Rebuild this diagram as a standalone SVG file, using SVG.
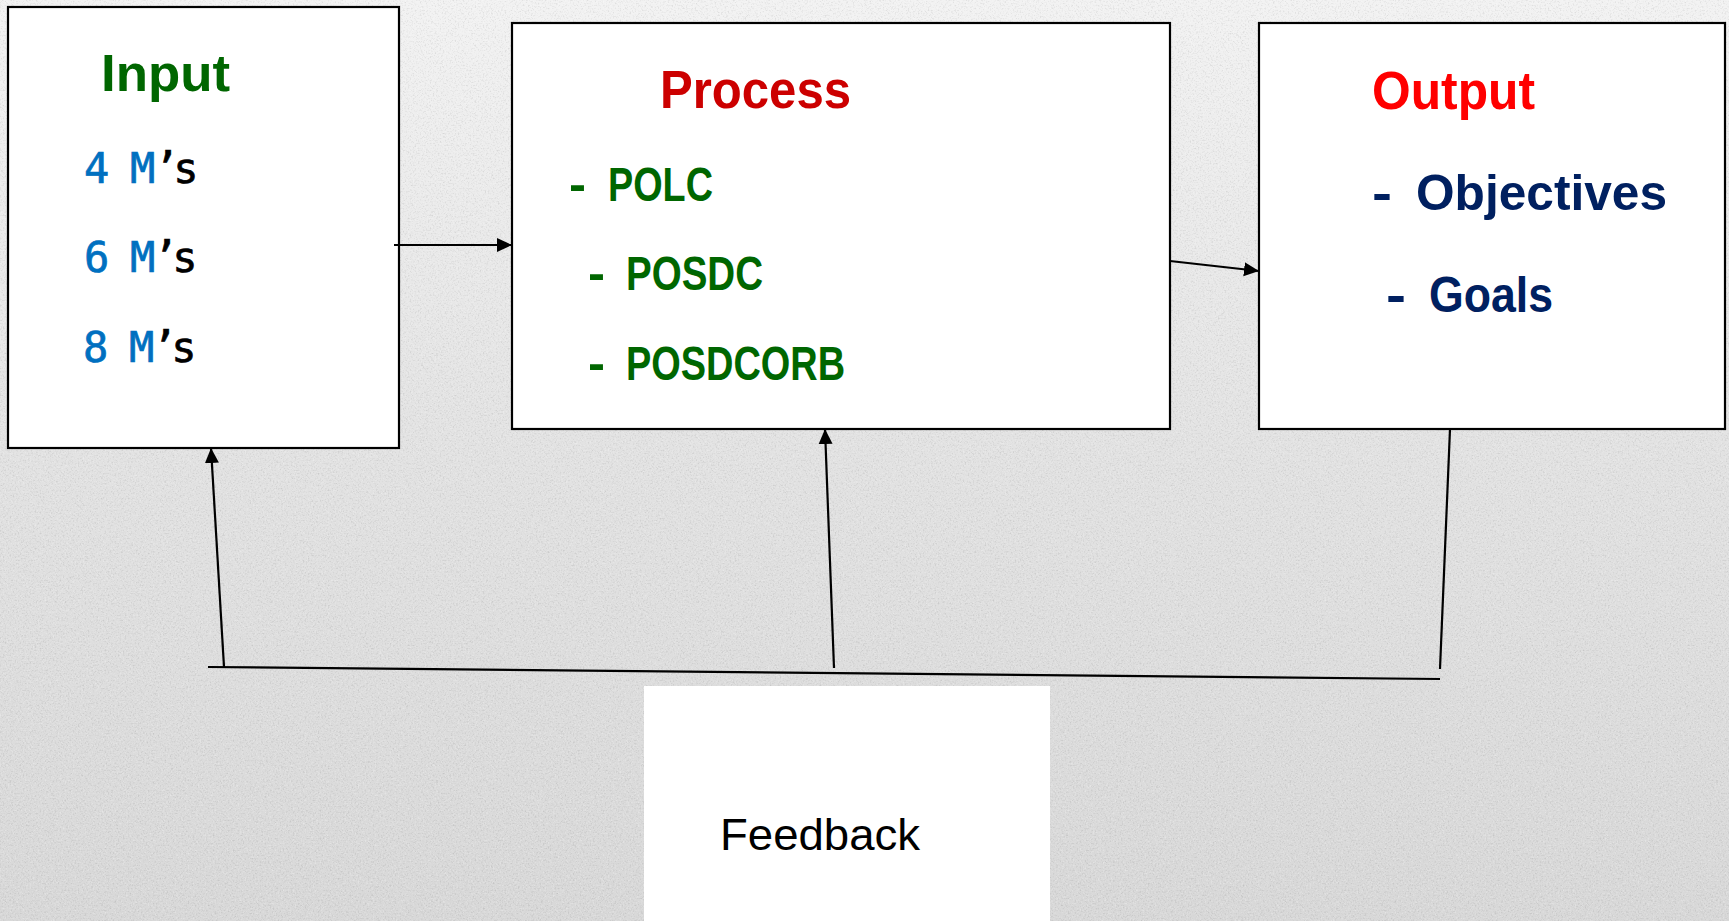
<svg xmlns="http://www.w3.org/2000/svg" width="1729" height="921" viewBox="0 0 1729 921">
  <defs>
    <linearGradient id="paper" x1="0" y1="0" x2="0" y2="1">
      <stop offset="0" stop-color="#f2f2f2"/>
      <stop offset="0.5" stop-color="#e2e2e2"/>
      <stop offset="1" stop-color="#d8d8d8"/>
    </linearGradient>
    <!-- fine paper grain: dark and light speckles -->
    <filter id="grainDark" x="0" y="0" width="100%" height="100%">
      <feTurbulence type="fractalNoise" baseFrequency="0.6" numOctaves="2" seed="7" result="n"/>
      <feColorMatrix in="n" type="matrix" values="0 0 0 0 0  0 0 0 0 0  0 0 0 0 0  2.4 0 0 0 -1.2"/>
    </filter>
    <filter id="grainLight" x="0" y="0" width="100%" height="100%">
      <feTurbulence type="fractalNoise" baseFrequency="0.6" numOctaves="2" seed="19" result="n"/>
      <feColorMatrix in="n" type="matrix" values="0 0 0 0 1  0 0 0 0 1  0 0 0 0 1  2.4 0 0 0 -1.2"/>
    </filter>
    <marker id="arrow" markerUnits="userSpaceOnUse" markerWidth="16" markerHeight="16" viewBox="0 0 16 16" refX="15" refY="8" orient="auto">
      <path d="M0,1 L15,8 L0,15 Z" fill="#000"/>
    </marker>
    <style>
      .box { fill: #ffffff; stroke: #000000; stroke-width: 2.2; }
      .plain { fill: #ffffff; stroke: none; }
      .bold { font-family: "Liberation Sans", Arial, sans-serif; font-weight: bold; }
      .mono { font-family: "DejaVu Sans Mono", "Liberation Mono", monospace; font-size: 42px; stroke-width: 0.7; }
      .count { letter-spacing: -2.3px; }
      .poss { letter-spacing: -6px; }
      .label { font-family: "Liberation Sans", Arial, sans-serif; font-size: 44px; fill: #000; }
      .green { fill: #006600; }
      .blue { fill: #0070c0; stroke: #0070c0; }
      .black { fill: #000; stroke: #000; }
      .navy { fill: #002060; }
      .conn line { stroke: #000; stroke-width: 2.2; fill: none; }
    </style>
  </defs>

  <!-- textured paper background -->
  <rect x="0" y="0" width="1729" height="921" fill="url(#paper)"/>
  <rect x="0" y="0" width="1729" height="921" filter="url(#grainDark)" opacity="0.10"/>
  <rect x="0" y="0" width="1729" height="921" filter="url(#grainLight)" opacity="0.35"/>

  <!-- Input -->
  <g id="input">
    <rect class="box" x="8" y="7" width="391" height="441"/>
    <text class="bold green" x="101" y="91" font-size="52" textLength="129" lengthAdjust="spacingAndGlyphs">Input</text>
    <text class="mono count blue" x="84" y="183">4 M</text>
    <text class="mono poss black" x="154" y="183">’s</text>
    <text class="mono count blue" x="84" y="272">6 M</text>
    <text class="mono poss black" x="153" y="272">’s</text>
    <text class="mono count blue" x="83" y="362">8 M</text>
    <text class="mono poss black" x="152" y="362">’s</text>
  </g>

  <!-- Process -->
  <g id="process">
    <rect class="box" x="512" y="23" width="658" height="406"/>
    <text class="bold" x="660" y="108" font-size="54" fill="#cc0000" textLength="191" lengthAdjust="spacingAndGlyphs">Process</text>
    <text class="bold green" x="569" y="201" font-size="48" textLength="17" lengthAdjust="spacingAndGlyphs">-</text>
    <text class="bold green" x="608" y="201" font-size="48" textLength="105" lengthAdjust="spacingAndGlyphs">POLC</text>
    <text class="bold green" x="588" y="290" font-size="48" textLength="17" lengthAdjust="spacingAndGlyphs">-</text>
    <text class="bold green" x="626" y="290" font-size="48" textLength="137" lengthAdjust="spacingAndGlyphs">POSDC</text>
    <text class="bold green" x="588" y="380" font-size="48" textLength="17" lengthAdjust="spacingAndGlyphs">-</text>
    <text class="bold green" x="626" y="380" font-size="48" textLength="219" lengthAdjust="spacingAndGlyphs">POSDCORB</text>
  </g>

  <!-- Output -->
  <g id="output">
    <rect class="box" x="1259" y="23" width="466" height="406"/>
    <text class="bold" x="1372" y="109" font-size="53" fill="#ff0000" textLength="163" lengthAdjust="spacingAndGlyphs">Output</text>
    <text class="bold navy" x="1372" y="210" font-size="50" textLength="20" lengthAdjust="spacingAndGlyphs">-</text>
    <text class="bold navy" x="1416" y="210" font-size="50" textLength="251" lengthAdjust="spacingAndGlyphs">Objectives</text>
    <text class="bold navy" x="1386" y="312" font-size="50" textLength="20" lengthAdjust="spacingAndGlyphs">-</text>
    <text class="bold navy" x="1429" y="312" font-size="50" textLength="124" lengthAdjust="spacingAndGlyphs">Goals</text>
  </g>

  <!-- Feedback -->
  <g id="feedback">
    <rect class="plain" x="644" y="686" width="406" height="240"/>
    <text class="label" x="720" y="850" textLength="200" lengthAdjust="spacingAndGlyphs">Feedback</text>
  </g>

  <!-- connectors -->
  <g id="connectors" class="conn">
    <line x1="394" y1="245" x2="512" y2="245" marker-end="url(#arrow)"/>
    <line x1="1170" y1="261" x2="1259" y2="271" marker-end="url(#arrow)"/>
    <line x1="208" y1="667" x2="1440" y2="679"/>
    <line x1="224" y1="667" x2="211" y2="448" marker-end="url(#arrow)"/>
    <line x1="834" y1="668" x2="825" y2="429" marker-end="url(#arrow)"/>
    <line x1="1450" y1="429" x2="1440" y2="669"/>
  </g>
</svg>
